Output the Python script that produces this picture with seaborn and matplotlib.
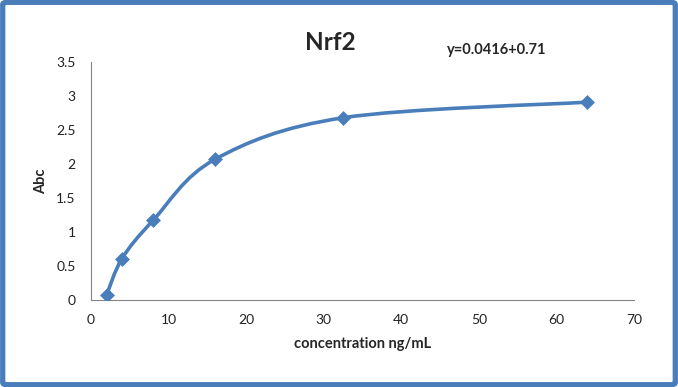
import numpy as np
import matplotlib
matplotlib.use("Agg")
import matplotlib.pyplot as plt
import seaborn as sns
from matplotlib.path import Path
from matplotlib.patches import PathPatch, FancyBboxPatch

# standard curve data
concentration = [2, 4, 8, 16, 32.5, 64]
absorbance = [0.07, 0.61, 1.17, 2.07, 2.68, 2.91]
x_ticks = [0, 10, 20, 30, 40, 50, 60, 70]
y_ticks = [0, 0.5, 1, 1.5, 2, 2.5, 3, 3.5]

BLUE = "#4A7EBB"
AXIS_GRAY = "#868686"

sns.set_style("white")
plt.rcParams["font.family"] = ["Lato", "DejaVu Sans"]


def smooth_path(xs, ys):
    # Excel-style smoothed line: cubic bezier segments through each point
    pts = np.column_stack([xs, ys]).astype(float)
    ext = np.vstack([pts[0], pts, pts[-1]])
    verts = [tuple(pts[0])]
    codes = [Path.MOVETO]
    for i in range(len(pts) - 1):
        p0, p1, p2, p3 = ext[i], ext[i + 1], ext[i + 2], ext[i + 3]
        c1 = p1 + (p2 - p0) / 6
        c2 = p2 - (p3 - p1) / 6
        verts += [tuple(c1), tuple(c2), tuple(p2)]
        codes += [Path.CURVE4] * 3
    return Path(verts, codes)


fig = plt.figure(figsize=(6.78, 3.87), dpi=100)
ax = fig.add_axes([91 / 678, 1 - 300 / 387, (634 - 91) / 678, (300 - 62) / 387])

ax.add_patch(PathPatch(smooth_path(concentration, absorbance), facecolor="none",
                       edgecolor=BLUE, lw=2.6, capstyle="round", zorder=2))
sns.scatterplot(x=concentration, y=absorbance, marker="D", s=50, color=BLUE,
                edgecolor=BLUE, linewidth=0.5, ax=ax, zorder=3)

ax.set_xlim(0, 70)
ax.set_ylim(0, 3.5)
ax.set_xticks(x_ticks)
ax.set_yticks(y_ticks)
ax.set_xticklabels([str(t) for t in x_ticks])
ax.set_yticklabels([f"{t:g}" for t in y_ticks])
ax.tick_params(axis="both", direction="out", length=4, width=0.8, color=AXIS_GRAY,
               labelsize=10, labelcolor="#222222")
ax.tick_params(axis="y", pad=7)
ax.tick_params(axis="x", pad=6)
for side in ["top", "right"]:
    ax.spines[side].set_visible(False)
for side in ["left", "bottom"]:
    ax.spines[side].set_color(AXIS_GRAY)
    ax.spines[side].set_linewidth(0.8)

ax.set_xlabel("concentration ng/mL", fontsize=10.5, fontweight="bold", labelpad=8)
ax.set_ylabel("Abc", fontsize=10.5, fontweight="bold", labelpad=6)

fig.text(330 / 678, 1 - 42 / 387, "Nrf2", fontsize=17.5, fontweight="bold",
         ha="center", va="center")
fig.text(497 / 678, 1 - 50 / 387, "y=0.0416+0.71", fontsize=10.5, fontweight="bold",
         ha="center", va="center")

# chart border
fig.patches.append(FancyBboxPatch((0.004, 0.006), 0.992, 0.988,
                                  boxstyle="round,pad=0,rounding_size=0.006",
                                  transform=fig.transFigure, facecolor="none",
                                  edgecolor=BLUE, lw=3.8))

fig.savefig("out.png", dpi=100)
